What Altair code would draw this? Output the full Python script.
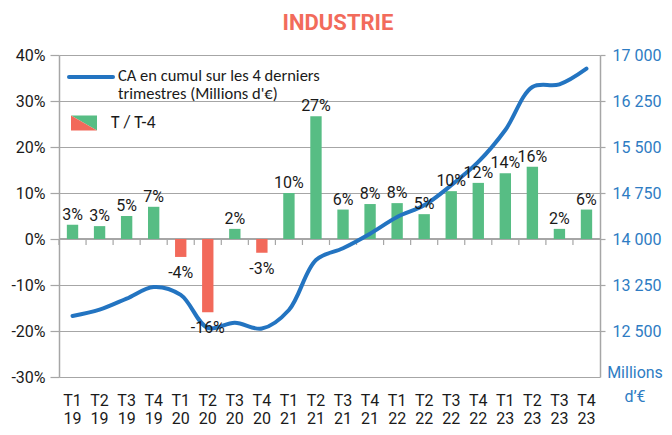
import altair as alt
import pandas as pd

quarters = ["T1 19", "T2 19", "T3 19", "T4 19", "T1 20", "T2 20", "T3 20", "T4 20",
            "T1 21", "T2 21", "T3 21", "T4 21", "T1 22", "T2 22", "T3 22", "T4 22",
            "T1 23", "T2 23", "T3 23", "T4 23"]
growth_pct = [3.1, 2.8, 5.0, 7.0, -3.9, -15.9, 2.2, -3.0, 10.0, 26.7,
              6.4, 7.6, 7.8, 5.4, 10.4, 12.2, 14.3, 15.7, 2.2, 6.4]
ca_cumul = [12745, 12848, 13028, 13218, 13088, 12550, 12636, 12540, 12843, 13658,
            13850, 14087, 14359, 14550, 14876, 15256, 15777, 16478, 16522, 16777]
left_ticks = [-30, -20, -10, 0, 10, 20, 30, 40]
right_ticks = [12500, 13250, 14000, 14750, 15500, 16250, 17000]

df = pd.DataFrame({"q": quarters, "g": growth_pct, "ca": ca_cumul})
one = pd.DataFrame({"k": [0]})

GREEN = "#57BD84"
RED = "#F2695A"
BLUE = "#2374C1"
AXBLUE = "#2E7CC3"
GRID = "#A6A6A6"
TXT = "#1a1a1a"
FONT = "Roboto"
LFONT = "Carlito, Liberation Sans Narrow, Open Sans"

W, H = 541, 322
STEP = W / len(quarters)

xscale = alt.Scale(paddingInner=0.58, paddingOuter=0.29)
xaxis = alt.Axis(title=None, domain=False, ticks=False, labelAngle=0, labelPadding=15,
                 labelFont=FONT, labelFontSize=16, labelColor=TXT, labelLineHeight=18,
                 labelExpr="split(datum.label, ' ')")
X = alt.X("q:N", sort=quarters, scale=xscale, axis=xaxis)

lscale = alt.Scale(domain=[-30, 40], nice=False, zero=False)
rscale = alt.Scale(domain=[11750, 17000], nice=False, zero=False)

left_axis = alt.Axis(title=None, orient="left", values=left_ticks, labelExpr="datum.value + '%'",
                     grid=True, gridColor=GRID, gridWidth=1.2, domainColor=GRID, domainWidth=1.5,
                     tickColor=GRID, tickSize=9, tickWidth=1.2, labelPadding=5,
                     labelFont=FONT, labelFontSize=16, labelColor=TXT)
right_axis = alt.Axis(title=None, orient="right", values=right_ticks,
                      labelExpr="replace(format(datum.value, ','), ',', ' ')",
                      grid=False, domainColor=GRID, domainWidth=1.5, tickColor=GRID,
                      tickSize=5, tickWidth=1.2, labelPadding=7,
                      labelFont=FONT, labelFontSize=16, labelColor=AXBLUE)

zero_line = alt.Chart(df).mark_rule(color=GRID, strokeWidth=1.5).encode(
    y=alt.YDatum(0, scale=lscale, axis=None))

cat_ticks = alt.Chart(df).mark_rule(color=GRID, strokeWidth=1.2, xOffset=-STEP / 2).encode(
    x=X, y=alt.YDatum(0, scale=lscale, axis=None), y2=alt.Y2Datum(-1.3))

bars = alt.Chart(df).mark_bar().encode(
    x=X,
    y=alt.Y("g:Q", scale=lscale, axis=left_axis),
    color=alt.condition("datum.g >= 0", alt.value(GREEN), alt.value(RED)))

line = alt.Chart(df).mark_line(interpolate="catmull-rom", strokeWidth=4, color=BLUE,
                               strokeCap="round").encode(
    x=X, y=alt.Y("ca:Q", scale=rscale, axis=right_axis))

lab_base = alt.Chart(df).transform_calculate(lab="round(datum.g) + '%'")
lab_pos = lab_base.transform_filter("datum.g >= 0").mark_text(
    font=FONT, fontSize=16, color=TXT, baseline="bottom", dy=-2).encode(
    x=X, y=alt.Y("g:Q", scale=lscale, axis=None), text="lab:N")
lab_neg = lab_base.transform_filter("datum.g < 0").mark_text(
    font=FONT, fontSize=16, color=TXT, baseline="top", dy=8).encode(
    x=X, y=alt.Y("g:Q", scale=lscale, axis=None), text="lab:N")

leg_line = alt.Chart(one).mark_rule(color=BLUE, strokeWidth=4, strokeCap="round").encode(
    x=alt.value(10), x2=alt.value(54), y=alt.value(22))
leg_text1 = alt.Chart(one).mark_text(font=LFONT, fontSize=16.5, color=TXT, align="left",
                                     baseline="middle", lineHeight=18, lineBreak="\n").encode(
    x=alt.value(59), y=alt.value(21),
    text=alt.value("CA en cumul sur les 4 derniers\ntrimestres (Millions d'€)"))
tri_green = alt.Chart(one).mark_point(shape="M-1,-0.577L1,-0.577L1,0.577Z", filled=True,
                                      size=676, color=GREEN, opacity=1, strokeWidth=0).encode(
    x=alt.value(25), y=alt.value(68))
tri_red = alt.Chart(one).mark_point(shape="M-1,-0.577L-1,0.577L1,0.577Z", filled=True,
                                    size=676, color=RED, opacity=1, strokeWidth=0).encode(
    x=alt.value(25), y=alt.value(68))
leg_text2 = alt.Chart(one).mark_text(font=LFONT, fontSize=17.5, color=TXT, align="left",
                                     baseline="middle").encode(
    x=alt.value(52), y=alt.value(68), text=alt.value("T / T-4"))

title = alt.Chart(one).mark_text(font=FONT, fontSize=22, fontWeight="bold", color="#F26B5B",
                                 align="center", baseline="middle").encode(
    x=alt.value(279), y=alt.value(-32), text=alt.value("INDUSTRIE"))
unit = alt.Chart(one).mark_text(font=FONT, fontSize=16, color=AXBLUE, align="center",
                                baseline="middle", lineHeight=24, lineBreak="\n").encode(
    x=alt.value(576), y=alt.value(318), text=alt.value("Millions\nd’€"))

chart = alt.layer(
    zero_line, cat_ticks, bars, line, lab_pos, lab_neg,
    leg_line, leg_text1, tri_green, tri_red, leg_text2, title, unit
).resolve_scale(y="independent").properties(
    width=W, height=H,
    padding={"left": 51, "top": 47, "right": 64, "bottom": 50},
    autosize=alt.AutoSizeParams(type="none"),
).configure_view(stroke=None)

chart.save("out.html", embed_options={"renderer": "svg", "actions": False})
